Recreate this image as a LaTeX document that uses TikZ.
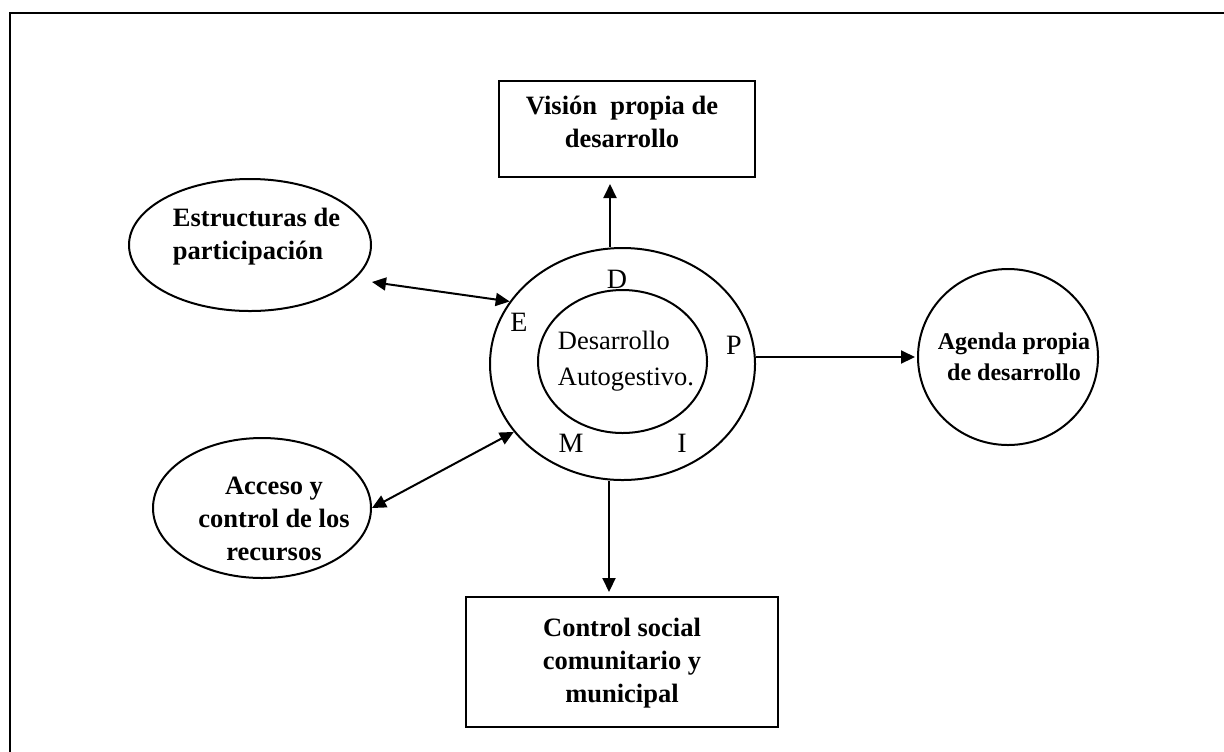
\documentclass[tikz,border=0pt]{standalone}
\usepackage{fontspec}
\setmainfont{Liberation Serif}
\usetikzlibrary{arrows.meta,shapes.geometric}
\begin{document}
\begin{tikzpicture}[x=0.5pt,y=-0.5pt,
  outline/.style={draw,line width=1pt},
  oval/.style={outline,ellipse,inner sep=0pt},
  boxnode/.style={outline,rectangle,inner sep=0pt},
  lbl/.style={font=\fontsize{13.25pt}{16.5pt}\selectfont\bfseries,align=center,inner sep=0pt},
  smalllbl/.style={font=\fontsize{12pt}{15.5pt}\selectfont\bfseries,align=center,inner sep=0pt},
  plain/.style={font=\fontsize{13.25pt}{18pt}\selectfont,inner sep=0pt},
  letter/.style={font=\fontsize{14pt}{16pt}\selectfont,inner sep=0pt},
  tip/.tip={Triangle[length=7pt,width=6.5pt]},
  arr/.style={line width=1pt,-tip},
  dblarr/.style={line width=1pt,tip-tip}
]
% page area and outer frame
\clip (0,0) rectangle (1224,751);
\draw[line width=1pt] (10.3,12.8) rectangle (1260,790);

% shapes
\node[oval,minimum width=121pt,minimum height=66pt] (estr) at (250,245) {};
\node[oval,minimum width=109pt,minimum height=70pt] (acc) at (262,508) {};
\node[oval,minimum width=90pt,minimum height=88pt] (agenda) at (1008,357) {};
\node[oval,minimum width=132.5pt,minimum height=116pt] (outer) at (622.5,364) {};
\node[oval,minimum width=84.5pt,minimum height=71.5pt] (inner) at (622.5,361.5) {};
\node[boxnode,minimum width=128pt,minimum height=48pt] (vis) at (627,129) {};
\node[boxnode,minimum width=156pt,minimum height=65pt] (ctrl) at (622,662) {};

% texts
\node[lbl] (visT) at (622,122) {Visión~ propia de\\desarrollo};
\node[lbl] (ctrlT) at (622,663) {Control social\\comunitario y\\municipal};
\node[lbl,align=left] (estrT) at (256.5,237) {Estructuras de\\participación};
\node[lbl] (accT) at (274,519) {Acceso y\\control de los\\recursos};
\node[smalllbl] (agT) at (1014,357) {Agenda propia\\de desarrollo};
\node[plain,align=left] (desT) at (626,361) {Desarrollo\\Autogestivo.};

% letters in the ring
\node[letter] (lD) at (617,279) {D};
\node[letter] (lE) at (519,322) {E};
\node[letter] (lP) at (734,345) {P};
\node[letter] (lM) at (571,443) {M};
\node[letter] (lI) at (682,443) {I};

% connectors
\coordinate (ep) at (372,282);
\draw[arr,shorten >=3pt] ([xshift=-6.25pt]outer.north) -- ([xshift=-8.5pt]vis.south);
\draw[arr,shorten >=2pt] ([xshift=-6.75pt]outer.south) -- ([xshift=-6.5pt]ctrl.north);
\draw[arr,shorten >=1pt] (agenda.west -| outer.east) -- (agenda.west);
\draw[dblarr] (ep) -- (outer.151);
\draw[dblarr] (acc.east) -- (outer.-148);
\end{tikzpicture}
\end{document}
